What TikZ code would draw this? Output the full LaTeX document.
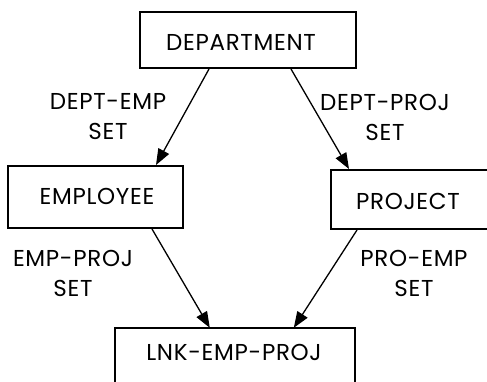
\documentclass[tikz,border=0pt]{standalone}
\usepackage{fontspec}
\setmainfont{Poppins}[LetterSpace=3]
\usetikzlibrary{arrows.meta}
\begin{document}
\begin{tikzpicture}[x=1pt,y=-1pt,
  box/.style={draw, line width=2pt, inner sep=0pt},
  lbl/.style={font=\fontsize{23}{30}\selectfont, inner sep=0pt, align=center},
  arr/.style={line width=1.3pt, -{Triangle[length=16pt,width=12pt]}}]
\clip (0,0) rectangle (487,381);
\fill[white] (0,0) rectangle (487,381);
\node[box, minimum width=216pt, minimum height=56pt] (dept) at (248,40) {};
\node[lbl] (deptt) at (241,42) {DEPARTMENT};
\node[box, minimum width=175pt, minimum height=62pt] (emp) at (95.5,197) {};
\node[lbl] (empt) at (97,196) {EMPLOYEE};
\node[box, minimum width=180pt, minimum height=59pt] (proj) at (421,199.5) {};
\node[lbl] (projt) at (408,201) {PROJECT};
\node[minimum width=240pt, minimum height=48pt, inner sep=0pt] (lnk) at (235,352) {};
\draw[line width=2pt] (lnk.south west) -- (lnk.north west) -- (lnk.north east) -- (lnk.south east);
\draw[line width=2pt] (lnk.south west) -- ++(0,40);
\draw[line width=2pt] (lnk.south east) -- ++(0,40);
\node[lbl] (lnkt) at (234,352) {LNK-EMP-PROJ};
\node[lbl] (l1) at (108,117) {DEPT-EMP\\SET};
\node[lbl] (l2) at (385,117) {DEPT-PROJ\\SET};
\node[lbl] (l3) at (73,273) {EMP-PROJ\\SET};
\node[lbl] (l4) at (414,273) {PRO-EMP\\SET};
\draw[arr] ([xshift=70pt]dept.south west) -- ([xshift=149pt]emp.north west);
\draw[arr] ([xshift=152pt]dept.south west) -- ([xshift=19pt]proj.north west);
\draw[arr] ([xshift=145pt]emp.south west) -- ([xshift=95pt]lnk.north west);
\draw[arr] ([xshift=27pt]proj.south west) -- ([xshift=179pt]lnk.north west);
\end{tikzpicture}
\end{document}
